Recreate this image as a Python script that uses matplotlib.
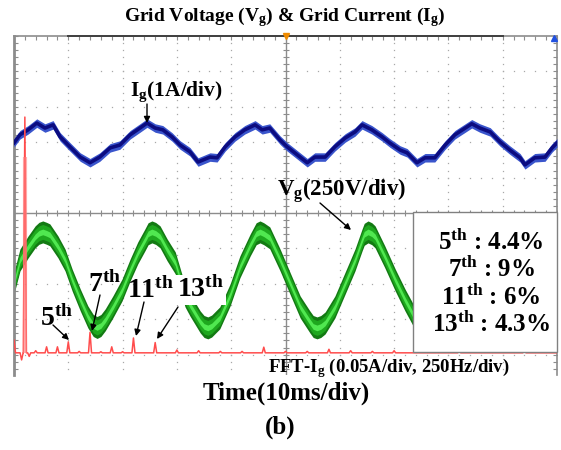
import numpy as np
import matplotlib
matplotlib.use("Agg")
import matplotlib.pyplot as plt
from matplotlib.patches import Rectangle, FancyArrowPatch
from matplotlib.lines import Line2D

plt.rcParams['font.family'] = ['Liberation Serif', 'DejaVu Serif']
plt.rcParams['font.weight'] = 'bold'
plt.rcParams['mathtext.fontset'] = 'custom'
plt.rcParams['mathtext.rm'] = 'Liberation Serif:bold'
plt.rcParams['mathtext.bf'] = 'Liberation Serif:bold'
plt.rcParams['mathtext.it'] = 'Liberation Serif:bold'

# ---------------- data ----------------
# grid current (A), time in ms
t_i = [0, 1.1, 2.6, 4.2, 5.7, 7.2, 8.5, 10.3, 12.2, 14.0, 15.8, 17.7, 19.5, 21.4, 23.2,
       24.5, 26.0, 27.4, 29.1, 30.6, 32.4, 33.9, 36.1, 37.4, 38.9, 40.7, 42.5, 44.4, 45.7,
       47.1, 49.0, 50.3, 51.7, 54.0, 55.4, 57.3, 59.1, 61.0, 62.8, 64.1, 65.9, 67.8, 69.2,
       71.1, 72.4, 74.2, 75.7, 77.5, 79.4, 81.2, 83.1, 84.3, 85.8, 87.7, 89.5, 91.3, 93.2,
       94.1, 95.9, 97.8, 99.1, 100]
i_g = [0.00, 0.23, 0.37, 0.56, 0.42, 0.51, 0.17, -0.11, -0.40, -0.56, -0.40, -0.14, -0.06,
       0.23, 0.42, 0.56, 0.42, 0.37, 0.17, -0.06, -0.25, -0.54, -0.40, -0.42, -0.11, 0.17,
       0.37, 0.51, 0.37, 0.42, 0.08, -0.11, -0.28, -0.56, -0.40, -0.40, -0.11, 0.14, 0.31,
       0.51, 0.37, 0.17, 0.00, -0.20, -0.28, -0.56, -0.42, -0.42, -0.06, 0.23, 0.42, 0.54,
       0.42, 0.31, 0.03, -0.20, -0.42, -0.62, -0.42, -0.40, -0.14, 0.00]

# grid voltage (V), time in ms
t_v = [0, 1.1, 2.6, 3.9, 4.6, 5.3, 6.0, 6.6, 8.1, 9.4, 10.7, 12.2, 13.6, 14.6, 15.3,
       16.0, 16.8, 18.2, 19.9, 21.4, 22.8, 24.1, 24.7, 25.4, 26.1, 26.9, 28.2, 29.7,
       31.5, 32.4, 34.3, 35.0, 35.7, 36.4, 37.9, 39.8, 41.6, 43.5, 44.6, 45.3, 46.0,
       47.1, 49.0, 50.8, 52.7, 54.5, 55.1, 55.8, 56.5, 57.3, 59.1, 61.0, 62.8, 64.1,
       64.5, 65.2, 65.9, 66.5, 68.3, 70.2, 72.0, 73.5, 75.7, 80.4, 85.1, 90.4, 95.6, 100]
v_g = [-21, 141, 233, 304, 329, 339, 329, 318, 233, 141, 0, -141, -261, -322, -336,
       -322, -282, -191, -71, 71, 191, 282, 326, 339, 328, 304, 212, 120,
       -113, -177, -297, -329, -339, -326, -268, -106, 92, 247, 326, 339, 326,
       297, 141, -21, -191, -297, -329, -339, -329, -304, -191, -21, 141, 282,
       322, 339, 326, 304, 162, 0, -141, -247, -339, 0, 339, 0, -339, -141]

# FFT of grid current: frequency (Hz) and magnitude (A) of spectral lines
fft_freq = [0, 35, 50, 70, 100, 150, 200, 250, 300, 350, 400, 450, 500, 550, 650, 750,
            850, 950, 1050, 1150, 1250, 1350, 1450, 1550, 1650, 1750, 2050, 2350]
fft_amp = [0.018, -0.010, 0.333, -0.005, 0.003, 0.0085, 0.0085, 0.0155, 0.002, 0.029,
           0.0015, 0.0085, 0.0015, 0.021, 0.0145, 0.004, 0.003, 0.002, 0.002, 0.008,
           0.002, 0.002, 0.005, 0.003, 0.002, 0.003, 0.002, 0.003]

harm_labels = ['5', '7', '11', '13']
harm_pct = ['4.4%', '9%', '6%', '4.3%']

# scope settings
ms_per_div = 10.0
a_per_div = 1.0
v_per_div = 250.0
fft_a_per_div = 0.05
hz_per_div = 250.0
i_offset = 1.98
v_offset = -1.89
fft_offset = -3.95

# ---------------- figure ----------------
W, H = 561, 450
fig = plt.figure(figsize=(W / 100, H / 100), dpi=100)
fig.patch.set_facecolor('white')

def fx(x):
    return x / W

def fy(y):
    return 1 - y / H

L, R, T, B = 14, 557, 36, 375
ax = fig.add_axes([fx(L), fy(B), (R - L) / W, (B - T) / H])
div_px = 35.4
ylo = -(B - 213) / div_px
ax.set_xlim(0, 10)
ax.set_ylim(ylo, 5)

gray = '#8c8c8c'
for s in ['left', 'top', 'right']:
    ax.spines[s].set_color(gray)
ax.spines['left'].set_linewidth(2)
ax.spines['top'].set_linewidth(1.2)
ax.spines['right'].set_linewidth(1.2)
ax.spines['bottom'].set_visible(False)
ax.add_line(Line2D([0.1, 0.9], [1, 1], transform=ax.transAxes, color='#404040',
                   lw=1.4, clip_on=False, zorder=5))

minor_x = np.arange(0, 10.001, 0.2)
minor_y = np.arange(np.ceil(ylo / 0.2) * 0.2, 5.001, 0.2)
ax.set_xticks(minor_x)
ax.set_yticks(minor_y)
ax.tick_params(axis='both', which='both', direction='in', length=3, width=0.8,
               color=gray, labelbottom=False, labelleft=False, bottom=False,
               top=True, left=True, right=True)

# dotted grid
for k in range(1, 10):
    if k == 5:
        continue
    ax.plot([k] * len(minor_y), minor_y, ls='none', marker='s', ms=0.9,
            color='#a8a8a8', mew=0, zorder=1)
for k in range(-4, 5):
    if k == 0:
        continue
    ax.plot(minor_x, [k] * len(minor_x), ls='none', marker='s', ms=0.9,
            color='#a8a8a8', mew=0, zorder=1)
# centre cross with ticks
ax.axhline(0, color=gray, lw=1, zorder=1)
ax.axvline(5, color=gray, lw=1, zorder=1)
ax.plot(minor_x, [0] * len(minor_x), ls='none', marker='|', ms=5, mew=0.8,
        color=gray, zorder=1)
ax.plot([5] * len(minor_y), minor_y, ls='none', marker='_', ms=5, mew=0.8,
        color=gray, zorder=1)

# voltage band
tv = np.array(t_v) / ms_per_div
vv = v_offset + np.array(v_g) / v_per_div
xs = np.linspace(0, 10, 2000)
vs = np.interp(xs, tv, vv)
ax.fill_between(xs, vs - 0.31, vs + 0.31, color='#137a13', lw=0, zorder=2)
ax.fill_between(xs, vs - 0.21, vs + 0.21, color='#1ea81e', lw=0, zorder=2)
ax.fill_between(xs, vs - 0.08, vs + 0.08, color='#50e850', lw=0, zorder=2)

# current band
ti = np.array(t_i) / ms_per_div
iv = i_offset + np.array(i_g) / a_per_div
ax.fill_between(ti, iv - 0.12, iv + 0.12, color='#3a55cc', lw=0, zorder=3)
ax.plot(ti, iv, color='#0c0c80', lw=2.6, zorder=3)

# FFT trace
w = 7.0
fpts, apts = [0.0], [0.0]
for f, a in zip(fft_freq, fft_amp):
    if f - w > fpts[-1]:
        fpts.append(f - w); apts.append(0.0)
    fpts.append(f); apts.append(a)
    fpts.append(f + w); apts.append(0.0)
fpts.append(2500.0); apts.append(0.0)
fpts[0], apts[0] = 0.0, fft_amp[0]
fx_div = np.array(fpts) / hz_per_div
fy_div = fft_offset + np.array(apts) / fft_a_per_div
ax.plot(fx_div, fy_div, color='#ff4c4c', lw=1.1, zorder=4)
ax.vlines(fft_freq[2] / hz_per_div, fft_offset,
          fft_offset + 0.83 * fft_amp[2] / fft_a_per_div,
          color='#ff8080', lw=3, alpha=0.6, zorder=4)

# markers on top edge
ax.plot([5], [5], marker='v', ms=5, color='#f08c00', clip_on=False, zorder=6)
ax.plot([9.95], [4.93], marker='^', ms=4.5, color='#2050e0', clip_on=False, zorder=6)

# ---------------- texts ----------------
fig.text(fx(285), fy(17), r'Grid Voltage (V$_{\rm g}$) & Grid Current (I$_{\rm g}$)',
         ha='center', va='center', fontsize=14, fontweight='bold')
fig.text(fx(130), fy(92), r'I$_{\rm g}$(1A/div)', ha='left', va='center',
         fontsize=15.5, fontweight='bold')
fig.text(fx(277), fy(191), r'V$_{\rm g}$(250V/div)', ha='left', va='center',
         fontsize=16.5, fontweight='bold')

arrow = dict(arrowstyle='-|>', color='black', lw=1, mutation_scale=9,
             shrinkA=0, shrinkB=0)
def arr(x0, y0, x1, y1):
    fig.add_artist(FancyArrowPatch(
        (fx(x0), fy(y0)), (fx(x1), fy(y1)), transform=fig.transFigure, **arrow,
        zorder=7))

arr(147, 104, 147, 123)
arr(320, 203, 351, 230)

lab_pos = [(40, 326), (88, 292), (127, 298), (177, 297)]
for (x, y), h in zip(lab_pos, harm_labels):
    kw = {}
    if h == '13':
        kw['bbox'] = dict(facecolor='white', edgecolor='none', pad=1.5)
    fig.text(fx(x), fy(y), h + r'$^{\rm th}$', ha='left', va='baseline',
             fontsize=20, fontweight='bold', **kw)
arr(53, 325, 69, 340)
arr(100, 295, 92, 331)
arr(144, 302, 136, 336)
arr(178, 307, 157, 339)

# box with percentages
fig.add_artist(Rectangle((fx(413), fy(352)), (557 - 413) / W, (352 - 212) / H,
                         transform=fig.transFigure, facecolor='white',
                         edgecolor='#808080', lw=1, zorder=6))
for k, (h, p) in enumerate(zip(harm_labels, harm_pct)):
    fig.text(fx(491), fy(249 + 27.4 * k), h + r'$^{\rm th}$' + ' : ' + p,
             ha='center', va='baseline', fontsize=18, fontweight='bold', zorder=8)

fig.text(fx(268), fy(372), r'FFT-I$_{\rm g}$ (0.05A/div, 250Hz/div)', ha='left',
         va='baseline', fontsize=13.5, fontweight='bold')
fig.text(fx(286), fy(400), 'Time(10ms/div)', ha='center', va='baseline',
         fontsize=18, fontweight='bold')
fig.text(fx(280), fy(434), '(b)', ha='center', va='baseline',
         fontsize=18, fontweight='bold')

fig.savefig('out.png', dpi=100)
